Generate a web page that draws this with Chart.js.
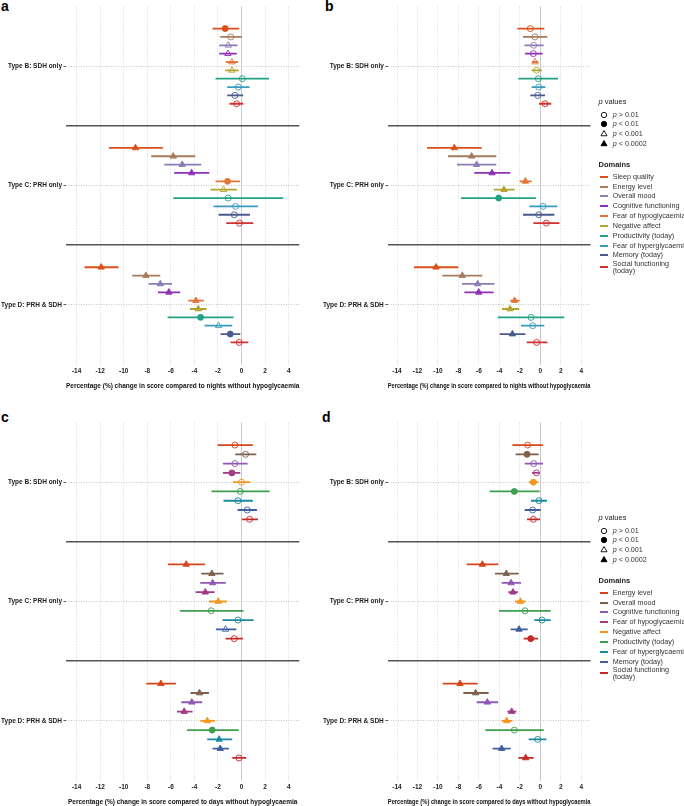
<!DOCTYPE html>
<html><head><meta charset="utf-8">
<script src="https://cdn.jsdelivr.net/npm/chart.js@4.4.1/dist/chart.umd.min.js"></script>
<style>
body{margin:0;background:#fff;}
#wrap{position:relative;width:684px;height:806px;overflow:hidden;font-family:"Liberation Sans",Arial,sans-serif;background:#fff;}
canvas{position:absolute;}
.plab{position:absolute;font-weight:bold;font-size:14px;line-height:14px;color:#000;}
.lg{position:absolute;font-size:7.2px;line-height:8px;color:#333;white-space:nowrap;}
.lgt{position:absolute;font-size:7.5px;line-height:8px;color:#222;white-space:nowrap;}
</style></head><body><div id="wrap">
<div class="plab" style="left:1px;top:-1px">a</div>
<div class="plab" style="left:325px;top:-1px">b</div>
<div class="plab" style="left:1px;top:410px">c</div>
<div class="plab" style="left:322px;top:410px">d</div>
<canvas id="pa"></canvas><canvas id="pb"></canvas><canvas id="pc"></canvas><canvas id="pd"></canvas>
</div>
<script>
// ---------- labels ----------
const xTicks = [-14,-12,-10,-8,-6,-4,-2,0,2,4];
const groups = ['Type B: SDH only','Type C: PRH only','Type D: PRH & SDH'];
const pLevels = ['> 0.01','< 0.01','< 0.001','< 0.0002'];
const nightDomains = ['Sleep quality','Energy level','Overall mood','Cognitive functioning','Fear of hypoglycaemia','Negative affect','Productivity (today)','Fear of hyperglycaemia','Memory (today)','Social functioning (today)'];
const dayDomains = ['Energy level','Overall mood','Cognitive functioning','Fear of hypoglycaemia','Negative affect','Productivity (today)','Fear of hyperglycaemia','Memory (today)','Social functioning (today)'];
const nightColors = ['#DD4F1A','#A67C5B','#8B7DB3','#8E30B5','#E0773A','#B3A330','#23A184','#3A9BC1','#4A5A8C','#D32F2F'];
const dayColors = ['#D64519','#7D604E','#8F58B8','#A23A84','#F5961D','#3E9E4F','#1C8A9E','#3F5F9D','#C62828'];

// ---------- panel a (nights): rows = [Type B, Type C, Type D] ----------
const aEst = [[-1.39,-0.91,-1.13,-1.16,-0.82,-0.82,0.06,-0.28,-0.57,-0.42],
              [-9.00,-5.80,-5.04,-4.24,-1.19,-1.53,-1.13,-0.51,-0.62,-0.17],
              [-11.91,-8.12,-6.90,-6.17,-3.88,-3.68,-3.48,-1.95,-0.96,-0.20]];
const aLow = [[-2.46,-1.81,-1.90,-1.90,-1.33,-1.39,-2.21,-1.22,-1.22,-1.02],
              [-11.26,-7.67,-6.56,-5.72,-2.21,-2.63,-5.80,-2.38,-1.95,-1.30],
              [-13.33,-9.28,-7.89,-7.10,-4.53,-4.39,-6.28,-3.14,-1.78,-0.93]];
const aHigh = [[-0.20,0.03,-0.34,-0.40,-0.31,-0.23,2.32,0.68,0.14,0.14],
               [-6.68,-3.93,-3.42,-2.74,-0.14,-0.40,3.54,1.39,0.71,0.99],
               [-10.44,-6.90,-5.91,-5.21,-3.20,-2.97,-0.68,-0.79,-0.11,0.57]];
const aP = [[1,0,2,2,2,2,0,0,0,0],[3,3,3,3,1,2,0,0,0,0],[3,3,3,3,3,3,1,2,1,0]];

// ---------- panel b (nights) ----------
const bEst = [[-0.98,-0.52,-0.65,-0.68,-0.52,-0.36,-0.20,-0.16,-0.26,0.46],
              [-8.40,-6.71,-6.22,-4.72,-1.46,-3.55,-4.07,0.26,-0.16,0.59],
              [-10.19,-7.62,-6.12,-6.02,-2.51,-2.96,-0.91,-0.75,-2.73,-0.36]];
const bLow = [[-2.25,-1.69,-1.56,-1.50,-0.81,-0.85,-2.15,-0.85,-0.98,-0.13],
              [-11.07,-9.02,-8.14,-6.45,-2.02,-4.56,-7.75,-1.07,-1.69,-0.68],
              [-12.34,-9.57,-7.65,-7.42,-2.96,-3.74,-4.17,-1.89,-3.97,-1.33]];
const bHigh = [[0.39,0.68,0.33,0.23,-0.20,0.16,1.73,0.49,0.46,1.07],
               [-5.73,-4.30,-4.30,-2.93,-0.85,-2.51,-0.42,1.66,1.37,1.86],
               [-8.01,-5.66,-4.49,-4.56,-2.02,-2.08,2.34,0.39,-1.46,0.68]];
const bP = [[0,0,0,0,2,0,0,0,0,0],[3,3,3,3,3,3,1,0,0,0],[3,3,3,3,3,3,0,0,3,0]];

// ---------- panel c (days) ----------
const cEst = [[-0.57,0.34,-0.57,-0.82,0.00,-0.11,-0.31,0.48,0.68],
              [-4.70,-2.52,-2.46,-3.08,-1.98,-2.58,-0.31,-1.36,-0.62],
              [-6.85,-3.57,-4.22,-4.87,-2.91,-2.49,-1.90,-1.81,-0.23]];
const cLow = [[-2.04,-0.54,-1.58,-1.58,-0.74,-2.55,-1.53,-0.34,0.00],
              [-6.25,-3.42,-3.51,-3.90,-2.77,-5.23,-1.61,-2.18,-1.36],
              [-8.09,-4.33,-5.12,-5.49,-3.51,-4.64,-2.91,-2.46,-0.79]];
const cHigh = [[0.96,1.25,0.51,-0.11,0.74,2.38,0.96,1.30,1.39],
               [-3.11,-1.53,-1.33,-2.29,-1.25,0.17,1.02,-0.45,0.11],
               [-5.57,-2.77,-3.34,-4.16,-2.26,-0.23,-0.79,-1.08,0.40]];
const cP = [[0,0,0,1,0,0,0,0,0],[3,3,3,3,3,0,0,2,0],[3,3,3,3,3,1,3,3,0]];

// ---------- panel d (days) ----------
const dEst = [[-1.24,-1.30,-0.65,-0.39,-0.68,-2.54,-0.13,-0.75,-0.68],
              [-5.66,-3.32,-2.86,-2.67,-1.95,-1.50,0.16,-2.08,-0.94],
              [-7.85,-6.32,-5.18,-2.80,-3.29,-2.54,-0.26,-3.78,-1.43]];
const dLow = [[-2.73,-2.41,-1.53,-0.81,-1.11,-4.95,-0.91,-1.53,-1.30],
              [-7.19,-4.43,-3.78,-3.13,-2.47,-4.04,-0.59,-2.90,-1.63],
              [-9.54,-7.52,-6.22,-3.22,-3.78,-5.37,-1.14,-4.66,-2.15]];
const dHigh = [[0.26,-0.16,0.26,0.00,-0.20,-0.07,0.65,0.03,-0.03],
               [-4.10,-2.12,-1.89,-2.18,-1.43,1.01,1.01,-1.24,-0.23],
               [-6.12,-5.05,-4.13,-2.34,-2.73,0.33,0.59,-2.90,-0.65]];
const dP = [[0,1,0,0,1,1,0,0,0],[3,3,3,3,3,0,0,3,1],[3,3,3,3,3,0,0,3,3]];

// ---------- drawing ----------
const FONT = '"Liberation Sans", Arial, sans-serif';
const DODGE = 0.7;
const X_MIN = -14.9, X_MAX = 4.9;
const nightTitle = 'Percentage (%) change in score compared to nights without hypoglycaemia';
const dayTitle = 'Percentage (%) change in score compared to days without hypoglycaemia';

function makePanel(id, left, top, W, H, area, domains, colors, est, low, high, p, titleText) {
  const cv = document.getElementById(id);
  cv.width = W; cv.height = H;
  cv.style.left = left + 'px'; cv.style.top = top + 'px';
  cv.style.width = W + 'px'; cv.style.height = H + 'px';
  const n = domains.length, G = groups.length;
  const bars = [], pts = [];
  groups.forEach((g, gi) => {
    const gy = G - gi;
    domains.forEach((d, i) => {
      const y = gy + ((n - 1) / 2 - i) * (DODGE / n);
      bars.push({x: [low[gi][i], high[gi][i]], y: y, c: colors[i]});
      pts.push({x: est[gi][i], y: y, c: colors[i], p: p[gi][i]});
    });
  });
  const yTickVals = [];
  for (let gi = 0; gi < G; gi++) {
    yTickVals.push(G - gi);
    if (gi < G - 1) yTickVals.push(G - gi - 0.5);
  }
  const isSep = ctx => ctx.tick && !Number.isInteger(ctx.tick.value);
  const isZero = ctx => ctx.tick && ctx.tick.value === 0;
  const filled = r => r.p === 1 || r.p === 3;
  new Chart(cv, {
    type: 'scatter',
    data: {
      datasets: [
        {type: 'bar', indexAxis: 'y', data: bars, grouped: false, barThickness: 1.8, borderWidth: 0,
         inflateAmount: 0, borderSkipped: false,
         backgroundColor: ctx => ctx.raw ? ctx.raw.c : '#000', order: 2},
        {type: 'scatter', data: pts, order: 1, showLine: false,
         pointStyle: ctx => (ctx.raw && ctx.raw.p >= 2) ? 'triangle' : 'circle',
         pointRadius: ctx => (ctx.raw && ctx.raw.p >= 2) ? 3.7 : 3.0,
         pointBackgroundColor: ctx => ctx.raw ? (filled(ctx.raw) ? ctx.raw.c : 'rgba(255,255,255,0)') : '#000',
         pointBorderColor: ctx => ctx.raw ? ctx.raw.c : '#000',
         pointBorderWidth: 0.9}
      ]
    },
    options: {
      responsive: false, animation: false, maintainAspectRatio: false,
      layout: {padding: {left: 0, right: left + W - area.r, top: area.t - top, bottom: 0}},
      plugins: {legend: {display: false}, tooltip: {enabled: false}},
      scales: {
        x: {
          type: 'linear', min: X_MIN, max: X_MAX, offset: false,
          afterBuildTicks: s => { s.ticks = xTicks.map(v => ({value: v})); },
          afterFit: s => { s.height = top + H - area.b; },
          ticks: {font: {family: FONT, size: 6.5, weight: 'bold'}, color: '#222', padding: 2.5,
                  autoSkip: false, maxRotation: 0, callback: v => String(v)},
          grid: {offset: false, color: ctx => isZero(ctx) ? '#c9c9c9' : '#d3d3d3', lineWidth: 1, drawTicks: false},
          border: {display: false, dash: ctx => isZero(ctx) ? [] : [1, 2]},
          title: {display: true, text: titleText, font: {family: FONT, size: 6.5, weight: 'bold'},
                  color: '#111', padding: {top: 0, bottom: 2}}
        },
        y: {
          type: 'linear', min: 0.5, max: G + 0.5, offset: false,
          afterBuildTicks: s => { s.ticks = yTickVals.map(v => ({value: v})); },
          afterFit: s => { s.width = area.l - left; },
          ticks: {font: {family: FONT, size: 6.5, weight: 'bold'}, color: '#222', padding: 1.5,
                  autoSkip: false, callback: v => Number.isInteger(v) ? groups[G - v] : ''},
          grid: {offset: false, color: ctx => isSep(ctx) ? '#555555' : '#b8b8b8',
                 lineWidth: ctx => isSep(ctx) ? 1.5 : 0.8,
                 drawTicks: true, tickLength: 2.5, tickBorderDash: [],
                 tickColor: ctx => isSep(ctx) ? 'rgba(0,0,0,0)' : '#333', tickWidth: 0.8},
          border: {display: false, dash: ctx => isSep(ctx) ? [] : [1, 1.5]}
        }
      }
    }
  });
}

function svgSym(k) {
  const c = 4;
  if (k <= 1) return '<circle cx="4" cy="4" r="2.7" stroke="#000" stroke-width="0.9" fill="' + (k === 1 ? '#000' : 'none') + '"/>';
  const r = 3.5, pts = [[c, c - r], [c - r * 0.866, c + r / 2], [c + r * 0.866, c + r / 2]].map(q => q.join(',')).join(' ');
  return '<polygon points="' + pts + '" stroke="#000" stroke-width="0.9" fill="' + (k === 3 ? '#000' : 'none') + '"/>';
}

function makeLegend(baseY, domains, colors) {
  const wrap = document.getElementById('wrap');
  const X0 = 598.5, XS = 604.3, XL = 600.3, XT = 612.7, STEP = 9.85;
  const add = (html, cls, x, cy, lh) => {
    const d = document.createElement('div');
    d.className = cls; d.innerHTML = html;
    d.style.left = x + 'px'; d.style.top = (cy - lh / 2) + 'px';
    wrap.appendChild(d); return d;
  };
  add('<i>p</i> values', 'lgt', X0, baseY, 8);
  pLevels.forEach((lv, k) => {
    const cy = baseY + 12.3 + k * STEP;
    const s = document.createElementNS('http://www.w3.org/2000/svg', 'svg');
    s.setAttribute('width', 8); s.setAttribute('height', 8);
    s.style.position = 'absolute'; s.style.left = (XS - 4) + 'px'; s.style.top = (cy - 4) + 'px';
    s.innerHTML = svgSym(k);
    wrap.appendChild(s);
    add('<i>p</i> ' + lv, 'lg', XT, cy, 8);
  });
  const dTitleY = baseY + 12.3 + 3 * STEP + 20.5;
  add('<b>Domains</b>', 'lgt', X0, dTitleY, 8);
  domains.forEach((d, i) => {
    let cy = dTitleY + 12 + i * STEP;
    const two = d.indexOf('Social') === 0;
    if (two) cy += 2;
    const ln = document.createElement('div');
    ln.style.cssText = 'position:absolute;left:' + XL + 'px;top:' + (cy - 1) + 'px;width:7.5px;height:2px;background:' + colors[i];
    wrap.appendChild(ln);
    if (two) add(d.replace(' (today)', '<br>(today)'), 'lg', XT, cy, 15.4).style.lineHeight = '7.7px';
    else add(d, 'lg', XT, cy, 8);
  });
}

const areaA = {l: 66, r: 299.3, t: 6.5, b: 364.5};
const areaB = {l: 387.8, r: 590.5, t: 6.5, b: 364.5};
const OFF = 416;
makePanel('pa', 0, 0, 342, 392, areaA, nightDomains, nightColors, aEst, aLow, aHigh, aP, nightTitle);
makePanel('pb', 320, 0, 280, 392, areaB, nightDomains, nightColors, bEst, bLow, bHigh, bP, nightTitle);
makePanel('pc', 0, OFF, 342, 392, {l: areaA.l, r: areaA.r, t: areaA.t + OFF, b: areaA.b + OFF}, dayDomains, dayColors, cEst, cLow, cHigh, cP, dayTitle);
makePanel('pd', 320, OFF, 280, 392, {l: areaB.l, r: areaB.r, t: areaB.t + OFF, b: areaB.b + OFF}, dayDomains, dayColors, dEst, dLow, dHigh, dP, dayTitle);
makeLegend(102.3, nightDomains, nightColors);
makeLegend(518.3, dayDomains, dayColors);
</script></body></html>
